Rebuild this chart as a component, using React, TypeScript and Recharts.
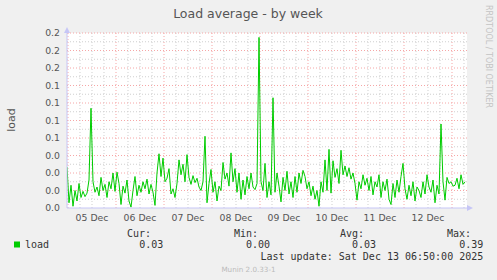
import React from 'react';
import { LineChart, Line, XAxis, YAxis, ReferenceLine } from 'recharts';

// hours after 05 Dec 00:00, one sample per hour
const startHour = -0.5;
const load: number[] = [
  0.047, 0.006, 0.026, 0.002, 0.020, 0.008, 0.028, 0.012, 0.019, 0.013,
  0.017, 0.032, 0.114, 0.030, 0.018, 0.024, 0.014, 0.035, 0.020, 0.027,
  0.012, 0.030, 0.022, 0.040, 0.019, 0.041, 0.028, 0.004, 0.025, 0.017,
  0.032, 0.008, 0.001, 0.020, 0.036, 0.014, 0.026, 0.018, 0.030, 0.022,
  0.033, 0.016, 0.027, 0.018, 0.003, 0.040, 0.062, 0.036, 0.057, 0.030,
  0.034, 0.045, 0.016, 0.022, 0.012, 0.028, 0.055, 0.038, 0.050, 0.030,
  0.061, 0.035, 0.027, 0.037, 0.029, 0.034, 0.024, 0.020, 0.030, 0.082,
  0.006, 0.028, 0.044, 0.018, 0.030, 0.008, 0.025, 0.020, 0.052, 0.033,
  0.040, 0.025, 0.063, 0.030, 0.045, 0.018, 0.040, 0.010, 0.032, 0.015,
  0.036, 0.022, 0.040, 0.024, 0.021, 0.028, 0.195, 0.030, 0.020, 0.051,
  0.012, 0.030, 0.015, 0.126, 0.018, 0.040, 0.025, 0.007, 0.035, 0.020,
  0.042, 0.016, 0.030, 0.012, 0.036, 0.018, 0.040, 0.028, 0.043, 0.036,
  0.022, 0.030, 0.014, 0.025, 0.010, 0.020, 0.002, 0.030, 0.018, 0.055,
  0.020, 0.067, 0.017, 0.054, 0.035, 0.045, 0.028, 0.066, 0.038, 0.048,
  0.036, 0.046, 0.033, 0.040, 0.028, 0.009, 0.030, 0.022, 0.038, 0.026,
  0.034, 0.020, 0.036, 0.015, 0.030, 0.024, 0.038, 0.012, 0.030, 0.020,
  0.033, 0.010, 0.004, 0.028, 0.012, 0.032, 0.018, 0.036, 0.051, 0.022,
  0.010, 0.026, 0.014, 0.030, 0.008, 0.024, 0.020, 0.012, 0.030, 0.016,
  0.038, 0.024, 0.018, 0.032, 0.006, 0.026, 0.016, 0.096, 0.030, 0.009,
  0.035, 0.028, 0.030, 0.025, 0.026, 0.034, 0.022, 0.038, 0.027, 0.030,
];

const dayLabels = ['05 Dec', '06 Dec', '07 Dec', '08 Dec', '09 Dec', '10 Dec', '11 Dec', '12 Dec'];
const dayNoons = [12, 36, 60, 84, 108, 132, 156, 180];
const dayLines = [0, 24, 48, 72, 96, 120, 144, 168, 192];
const sixHourLines = [6, 12, 18, 30, 36, 42, 54, 60, 66, 78, 84, 90, 102, 108, 114, 126, 132, 138, 150, 156, 162, 174, 180, 186, 198];

const yTicks = [0, 0.02, 0.04, 0.06, 0.08, 0.1, 0.12, 0.14, 0.16, 0.18, 0.2];
const yLabels = ['0.0', '0.0', '0.0', '0.0', '0.1', '0.1', '0.1', '0.1', '0.2', '0.2', '0.2'];
const yMinor = [0.01, 0.03, 0.05, 0.07, 0.09, 0.11, 0.13, 0.15, 0.17, 0.19];

const stats = { cur: '0.03', min: '0.00', avg: '0.03', max: '0.39' };

const data = load.map((v, i) => ({ t: startHour + i, load: v }));

const sans = 'DejaVu Sans, sans-serif';
const mono = 'DejaVu Sans Mono, monospace';
const majorCol = '#f6a6a6';
const minorCol = '#cfcfcf';
const axisCol = '#c6c6f6';

export default function App() {
  return (
    <div style={{ position: 'absolute', left: 0, top: 0, width: 497, height: 280, background: '#f0f0f0' }}>
      <LineChart
        width={497}
        height={280}
        data={data}
        margin={{ top: 33, right: 30, bottom: 52, left: 7 }}
      >
        <rect x={67} y={33} width={400} height={175} fill="#ffffff" />
        <XAxis
          dataKey="t"
          type="number"
          domain={[-0.5, 199.5]}
          ticks={dayNoons}
          tickFormatter={(v, i) => dayLabels[i]}
          allowDataOverflow
          height={20}
          tickLine={false}
          tickSize={3}
          tickMargin={3}
          axisLine={{ stroke: axisCol }}
          tick={{ fill: '#555', fontSize: 9.3, fontFamily: sans }}
        />
        <YAxis
          type="number"
          domain={[0, 0.2]}
          ticks={yTicks}
          tickFormatter={(v, i) => yLabels[i]}
          width={60}
          tickLine={false}
          tickSize={5}
          tickMargin={2}
          axisLine={{ stroke: axisCol }}
          tick={{ fill: '#555', fontSize: 9.3, fontFamily: sans }}
        />
        {sixHourLines.map((h) => (
          <ReferenceLine key={'m' + h} x={h} stroke={minorCol} strokeDasharray="1 2" />
        ))}
        {yMinor.map((v) => (
          <ReferenceLine key={'n' + v} y={v} stroke={minorCol} strokeDasharray="1 2" />
        ))}
        {dayLines.map((h) => (
          <ReferenceLine key={'d' + h} x={h} stroke={majorCol} strokeDasharray="1 2" />
        ))}
        {yTicks.slice(1).map((v) => (
          <ReferenceLine key={'y' + v} y={v} stroke={majorCol} strokeDasharray="1 2" />
        ))}
        <Line
          type="linear"
          dataKey="load"
          stroke="#00cc00"
          strokeWidth={1}
          dot={false}
          isAnimationActive={false}
        />
      </LineChart>
      <svg width={497} height={280} style={{ position: 'absolute', left: 0, top: 0, pointerEvents: 'none' }}>
        <text x={248} y={17.5} textAnchor="middle" fontFamily={sans} fontSize={12.5} fill="#555">
          Load average - by week
        </text>
        <text transform="translate(15,120) rotate(-90)" textAnchor="middle" fontFamily={sans} fontSize={11} fill="#555">
          load
        </text>
        <text transform="translate(486,5) rotate(90)" fontFamily={sans} fontSize={8} fill="#c4c4c4">
          RRDTOOL / TOBI OETIKER
        </text>
        <polygon points="64,33 70,33 67,27" fill={axisCol} />
        <polygon points="467,205 467,211 473,208" fill={axisCol} />
        <rect x={14} y={241.5} width={6} height={6} fill="#00cc00" />
        <g fontFamily={mono} fontSize={10} fill="#333">
          <text x={25} y={247.5}>load</text>
          <text x={127} y={237}>Cur:</text>
          <text x={234} y={237}>Min:</text>
          <text x={340} y={237}>Avg:</text>
          <text x={447} y={237}>Max:</text>
          <text x={139.3} y={247.5}>{stats.cur}</text>
          <text x={246} y={247.5}>{stats.min}</text>
          <text x={352} y={247.5}>{stats.avg}</text>
          <text x={459.3} y={247.5}>{stats.max}</text>
          <text x={260.5} y={259.5}>Last update: Sat Dec 13 06:50:00 2025</text>
        </g>
        <text x={248.5} y={272} textAnchor="middle" fontFamily={sans} fontSize={7.2} fill="#bbb">
          Munin 2.0.33-1
        </text>
      </svg>
    </div>
  );
}
